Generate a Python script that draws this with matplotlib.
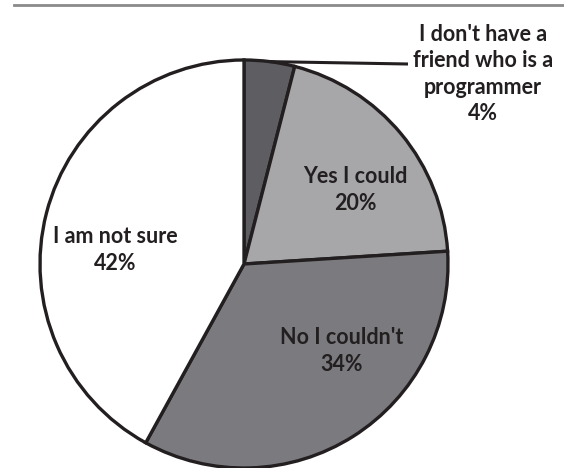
import matplotlib.pyplot as plt
import numpy as np

# survey answers, clockwise from 12 o'clock
labels = ["I don't have a\nfriend who is a\nprogrammer", "Yes I could", "No I couldn't", "I am not sure"]
shares = [4, 20, 34, 42]
colors = ["#5e5e62", "#a7a7aa", "#7b7b7f", "#ffffff"]

W, H = 564, 468
TXT = "#231f20"

fig = plt.figure(figsize=(W / 100, H / 100), dpi=100)
ax = fig.add_axes([0, 0, 1, 1])

cx, cy, r = 244, H - 264, 204
wedges, _ = ax.pie(shares, colors=colors, startangle=90, counterclock=False,
                   center=(cx, cy), radius=r,
                   wedgeprops=dict(edgecolor=TXT, linewidth=2.4))

# label block centres in pixel coords (x, y from top)
label_pos = [(483, 74), (355, 190), (342, 351), (115, 250)]
font = dict(family="Lato", fontweight="bold", fontsize=15.5, color=TXT,
            ha="center", va="center", multialignment="center", linespacing=1.3)
for lab, pct, (x, y) in zip(labels, shares, label_pos):
    ax.text(x, H - y, lab + "\n" + str(pct) + "%", **font)

# leader line for the small slice
mid = np.deg2rad(90 - shares[0] / 100 * 360 / 2)
ax.plot([cx + r * np.cos(mid), 408], [cy + r * np.sin(mid), H - 64],
        color=TXT, lw=2.2, solid_capstyle="butt")

# thin rule at the top
ax.plot([14, W], [H - 5, H - 5], color="#8a8a8a", lw=2)

ax.set_xlim(0, W)
ax.set_ylim(0, H)
ax.set_aspect("auto")
ax.axis("off")

fig.savefig("out.png", dpi=100)
